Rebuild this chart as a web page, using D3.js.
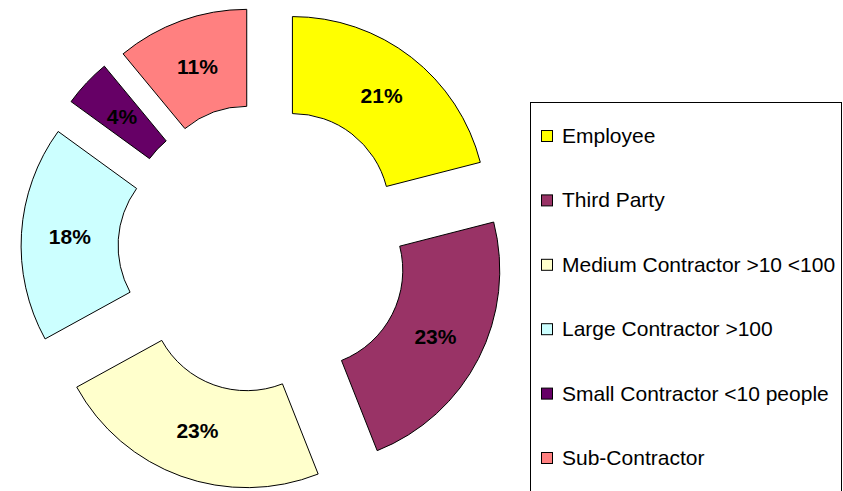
<!DOCTYPE html>
<html>
<head>
<meta charset="utf-8">
<script src="https://cdn.jsdelivr.net/npm/d3@7"></script>
<style>
  html, body { margin: 0; padding: 0; background: #fff; }
  svg { display: block; }
</style>
</head>
<body>
<svg id="chart" width="843" height="491"></svg>
<script>
const categories = ["Employee", "Third Party", "Medium Contractor >10 <100", "Large Contractor >100", "Small Contractor <10 people", "Sub-Contractor"];
const values = [21, 23, 23, 18, 4, 11];
const labels = ["21%", "23%", "23%", "18%", "4%", "11%"];
const colors = ["#FFFF00", "#993366", "#FFFFCC", "#CCFFFF", "#660066", "#FF8080"];

const svg = d3.select("#chart");
const cx = 263, cy = 248.5;
const rInner = 97, rOuter = 194, explode = 48;

const pie = d3.pie().sort(null).value(d => d.value);
const arcs = pie(categories.map((c, i) => ({ name: c, value: values[i], label: labels[i], color: colors[i] })));
const arc = d3.arc().innerRadius(rInner).outerRadius(rOuter);

const g = svg.append("g").attr("transform", `translate(${cx},${cy})`);

const slices = g.selectAll("g.slice").data(arcs).join("g")
  .attr("class", "slice")
  .attr("transform", d => {
    const m = (d.startAngle + d.endAngle) / 2;
    return `translate(${explode * Math.sin(m)},${-explode * Math.cos(m)})`;
  });

slices.append("path")
  .attr("d", arc)
  .attr("fill", d => d.data.color)
  .attr("stroke", "#000")
  .attr("stroke-width", 1);

slices.append("text")
  .attr("transform", d => `translate(${arc.centroid(d)})`)
  .attr("text-anchor", "middle")
  .attr("dy", "0.36em")
  .attr("font-family", "Liberation Sans, Arial, sans-serif")
  .attr("font-weight", "bold")
  .attr("font-size", 21)
  .attr("fill", "#000")
  .text(d => d.data.label);

// Legend
const legend = svg.append("g");
legend.append("rect")
  .attr("x", 530.5).attr("y", 102.5)
  .attr("width", 311).attr("height", 400)
  .attr("fill", "#fff")
  .attr("stroke", "#000")
  .attr("stroke-width", 1);

const items = legend.selectAll("g.item").data(arcs).join("g")
  .attr("class", "item")
  .attr("transform", (d, i) => `translate(0,${143 + i * 64.4})`);

items.append("rect")
  .attr("x", 541.5).attr("y", -12.5)
  .attr("width", 11).attr("height", 11)
  .attr("fill", d => d.data.color)
  .attr("stroke", "#000")
  .attr("stroke-width", 1);

items.append("text")
  .attr("x", 562).attr("y", 0)
  .attr("font-family", "Liberation Sans, Arial, sans-serif")
  .attr("font-size", 21)
  .attr("fill", "#000")
  .text(d => d.data.name);
</script>
</body>
</html>
